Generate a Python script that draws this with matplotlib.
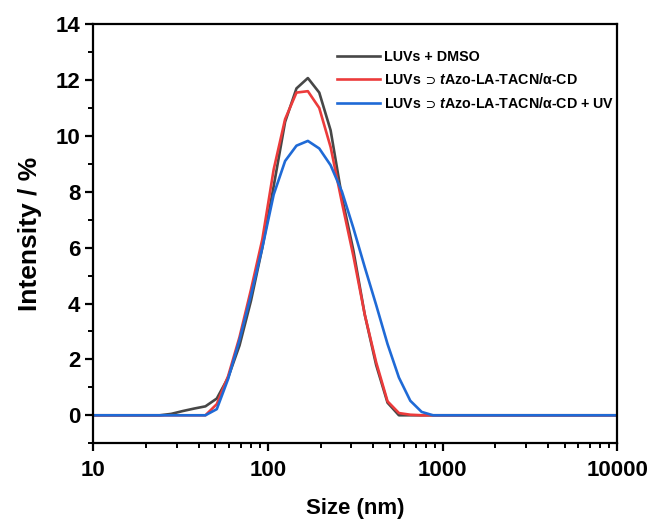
import matplotlib
matplotlib.use('Agg')
import matplotlib.pyplot as plt
from matplotlib.ticker import FixedLocator, LogLocator, NullFormatter, MultipleLocator

plt.rcParams['font.family'] = ['Liberation Sans', 'DejaVu Sans']
plt.rcParams['mathtext.fontset'] = 'custom'
plt.rcParams['mathtext.rm'] = 'Liberation Sans:bold'
plt.rcParams['mathtext.it'] = 'Liberation Sans:bold:italic'
plt.rcParams['mathtext.bf'] = 'Liberation Sans:bold'
plt.rcParams['mathtext.fallback'] = 'stixsans'

# size bins (nm)
size = [10.0, 11.3, 13.2, 15.3, 17.8, 20.7, 24.0, 27.9, 32.4, 37.7, 43.8, 50.9,
        59.1, 68.7, 79.9, 92.8, 107.8, 125.3, 145.6, 169.2, 196.6, 228.4, 265.4,
        308.4, 358.4, 416.4, 483.9, 562.3, 653.4, 759.2, 882.2, 1025, 2000, 5000, 10000]

dmso = [0, 0, 0, 0, 0, 0, 0, 0.05, 0.15, 0.24, 0.32, 0.6,
        1.35, 2.5, 4.1, 6.0, 8.2, 10.5, 11.7, 12.07, 11.55, 10.2, 7.8,
        5.9, 3.6, 1.8, 0.45, 0, 0, 0, 0, 0, 0, 0, 0]
cd = [0, 0, 0, 0, 0, 0, 0, 0, 0, 0, 0, 0.4,
      1.4, 2.8, 4.5, 6.3, 8.8, 10.6, 11.55, 11.6, 11.0, 9.6, 7.6,
      5.7, 3.6, 1.9, 0.5, 0.08, 0.02, 0, 0, 0, 0, 0, 0]
cd_uv = [0, 0, 0, 0, 0, 0, 0, 0, 0, 0, 0, 0.22,
         1.3, 2.7, 4.3, 6.0, 7.9, 9.1, 9.65, 9.82, 9.55, 8.95, 8.0,
         6.7, 5.3, 3.95, 2.55, 1.35, 0.52, 0.12, 0, 0, 0, 0, 0]

labels = ['LUVs + DMSO',
          'LUVs$\\,{\\supset}\\,\\mathit{t}$Azo-LA-TACN/\u03b1-CD',
          'LUVs$\\,{\\supset}\\,\\mathit{t}$Azo-LA-TACN/\u03b1-CD + UV']
colors = ['#474747', '#ec3b3b', '#1f6ad6']

fig = plt.figure(figsize=(6.51, 5.19), dpi=100)
ax = fig.add_axes([0.1435, 0.146, 0.8045, 0.8075])

for ys, lab, c in zip([dmso, cd, cd_uv], labels, colors):
    ax.plot(size, ys, color=c, lw=1.9, label=lab)

ax.set_xscale('log')
ax.set_xlim(10, 10000)
ax.set_ylim(-1, 14)
ax.xaxis.set_major_locator(FixedLocator([10, 100, 1000, 10000]))
ax.xaxis.set_minor_locator(LogLocator(base=10, subs=range(2, 10)))
ax.xaxis.set_minor_formatter(NullFormatter())
ax.set_xticklabels(['10', '100', '1000', '10000'])
ax.yaxis.set_major_locator(MultipleLocator(2))
ax.yaxis.set_minor_locator(MultipleLocator(1))

for s in ax.spines.values():
    s.set_linewidth(1.6)
ax.tick_params(which='major', direction='out', length=6, width=1.6, labelsize=16)
ax.tick_params(axis='x', which='major', pad=6)
ax.tick_params(which='minor', direction='out', length=3.5, width=1.4)
for t in ax.get_xticklabels() + ax.get_yticklabels():
    t.set_fontweight('bold')

ax.set_xlabel('Size (nm)', fontsize=16, fontweight='bold', labelpad=12)
ax.set_ylabel('Intensity / %', fontsize=19, fontweight='bold', labelpad=10)

leg = ax.legend(loc='upper left', bbox_to_anchor=(0.44, 0.97), frameon=False,
                handlelength=3.0, handletextpad=0.3, labelspacing=0.6,
                prop={'weight': 'bold', 'size': 10.3})

plt.savefig('out.png', dpi=100)
